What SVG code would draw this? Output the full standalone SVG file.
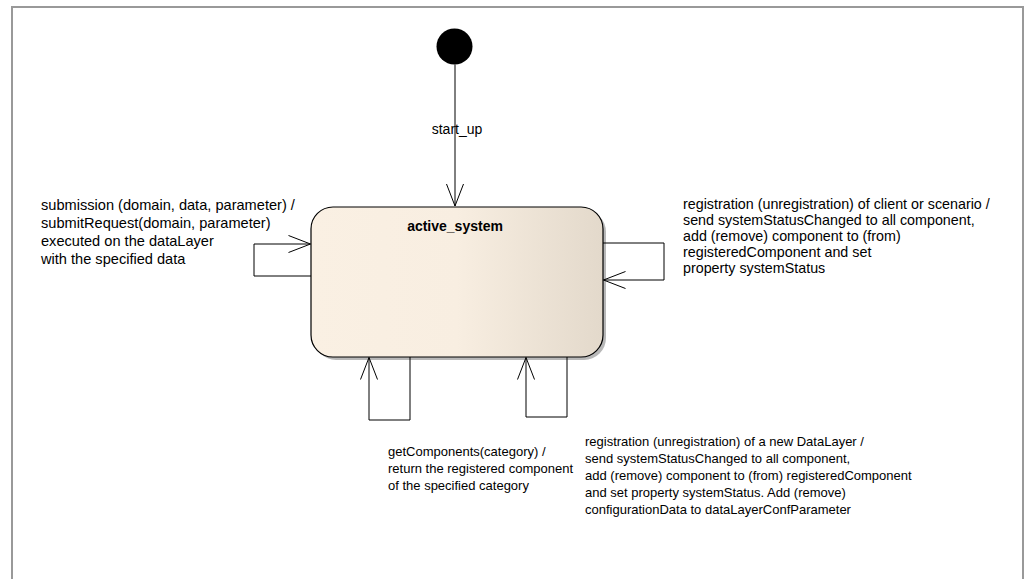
<svg xmlns="http://www.w3.org/2000/svg" width="1032" height="579" viewBox="0 0 1032 579">
<style>
  .lbl { font-family: "Liberation Sans", Arial, sans-serif; font-size: 14px; fill: #000; }
  .small { font-size: 13px; }
  .title { font-family: "Liberation Sans", Arial, sans-serif; font-size: 14px; font-weight: bold; fill: #000; }
  .edge { fill: none; stroke: #000; stroke-width: 1; }
</style>
<defs>
  <linearGradient id="stateFill" x1="0" y1="0" x2="1" y2="0">
    <stop offset="0" stop-color="#FAF0E3"/>
    <stop offset="0.5" stop-color="#F8EEE1"/>
    <stop offset="1" stop-color="#E3D9CB"/>
  </linearGradient>
  <marker id="open" viewBox="-24 -10 26 20" refX="0" refY="0" markerWidth="26" markerHeight="20" markerUnits="userSpaceOnUse" orient="auto">
    <path d="M-22,-8.5 L0,0 L-22,8.5" fill="none" stroke="#000" stroke-width="1"/>
  </marker>
</defs>
<rect x="0" y="0" width="1032" height="579" fill="#fff"/>
<path d="M12,579 V7 H1023 V579" fill="none" stroke="#999" stroke-width="2"/>

<g id="initial">
  <circle cx="454.5" cy="46.5" r="18" fill="#000"/>
</g>

<g id="active_system">
  <rect x="314" y="210" width="292" height="150" rx="22" ry="22" fill="#b8b8b8"/>
  <rect x="311" y="207" width="292" height="150" rx="22" ry="22" fill="url(#stateFill)" stroke="#000" stroke-width="1.2"/>
  <text class="title" x="455" y="231" text-anchor="middle">active_system</text>
</g>

<g id="connectors">
  <path class="edge" d="M455,64.5 V206" marker-end="url(#open)"/>
  <path class="edge" d="M311,276 H254 V244 H310.5" marker-end="url(#open)"/>
  <path class="edge" d="M603,243 H664 V280 H603.5" marker-end="url(#open)"/>
  <path class="edge" d="M410,357 V420 H369 V357.5" marker-end="url(#open)"/>
  <path class="edge" d="M567,357 V417 H526 V357.5" marker-end="url(#open)"/>
</g>

<g id="labels">
  <text class="lbl" x="457" y="134" text-anchor="middle">start_up</text>
  <text class="lbl" style="font-size:14.6px">
    <tspan x="41" y="210">submission (domain, data, parameter) /</tspan>
    <tspan x="41" y="228">submitRequest(domain, parameter)</tspan>
    <tspan x="41" y="246">executed on the dataLayer</tspan>
    <tspan x="41" y="264">with the specified data</tspan>
  </text>
  <text class="lbl" style="font-size:14.3px">
    <tspan x="683" y="209">registration (unregistration) of client or scenario /</tspan>
    <tspan x="683" y="225">send systemStatusChanged to all component,</tspan>
    <tspan x="683" y="241">add (remove) component to (from)</tspan>
    <tspan x="683" y="257">registeredComponent and set</tspan>
    <tspan x="683" y="273">property systemStatus</tspan>
  </text>
  <text class="lbl small">
    <tspan x="388" y="456">getComponents(category) /</tspan>
    <tspan x="388" y="473">return the registered component</tspan>
    <tspan x="388" y="490">of the specified category</tspan>
  </text>
  <text class="lbl small">
    <tspan x="585" y="446">registration (unregistration) of a new DataLayer /</tspan>
    <tspan x="585" y="463">send systemStatusChanged to all component,</tspan>
    <tspan x="585" y="480">add (remove) component to (from) registeredComponent</tspan>
    <tspan x="585" y="497">and set property systemStatus. Add (remove)</tspan>
    <tspan x="585" y="514">configurationData to dataLayerConfParameter</tspan>
  </text>
</g>
</svg>
